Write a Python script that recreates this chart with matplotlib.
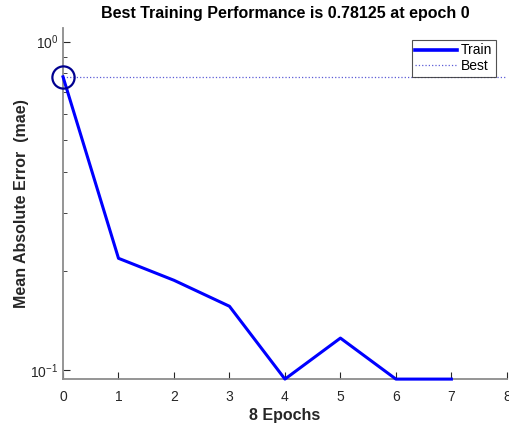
import matplotlib

matplotlib.use("Agg")
import matplotlib.pyplot as plt  # noqa: E402
import numpy as np  # noqa: E402
from matplotlib.ticker import LogLocator, NullFormatter  # noqa: E402

plt.rcParams["font.family"] = ["Liberation Sans", "DejaVu Sans"]

epochs = [0, 1, 2, 3, 4, 5, 6, 7]
train_mae = [0.78125, 0.21875, 0.1875, 0.15625, 0.09375, 0.125, 0.09375, 0.09375]
best_epoch = 0
best_value = 0.78125

fig = plt.figure(figsize=(5.09, 4.25), dpi=100)
ax = fig.add_axes([0.1238, 0.108, 0.872, 0.826])

ax.plot(epochs, train_mae, "-", color="#0000ff", linewidth=2.2, label="Train",
        clip_on=False, zorder=3)
ax.axhline(best_value, linestyle=":", color="#5c5cd6", linewidth=0.9, label="Best")
ax.plot([best_epoch], [best_value], "o", markersize=16, markerfacecolor="none",
        markeredgecolor="#000090", markeredgewidth=1.6, clip_on=False, zorder=4)

ax.set_yscale("log")
ax.set_xlim(0, 8)
ax.set_ylim(0.09375, 1.1)
ax.set_xticks(range(0, 9))
ax.yaxis.set_major_locator(LogLocator(base=10, numticks=5))
ax.yaxis.set_minor_locator(LogLocator(base=10, subs=np.arange(2, 10) * 1.0, numticks=20))
ax.yaxis.set_minor_formatter(NullFormatter())

for side in ["top", "right"]:
    ax.spines[side].set_visible(False)
for side in ["left", "bottom"]:
    ax.spines[side].set_color("#8c8c8c")
    ax.spines[side].set_linewidth(1.3)

ax.tick_params(axis="both", which="both", direction="in", colors="#262626",
               labelsize=10, labelcolor="#262626")
ax.tick_params(axis="both", which="major", length=5)
ax.tick_params(axis="y", which="minor", length=3)
ax.tick_params(axis="x", pad=8)

ax.set_title(f"Best Training Performance is {best_value} at epoch {best_epoch}",
             fontsize=11.5, fontweight="bold", pad=7)
ax.set_xlabel(f"{len(epochs)} Epochs", fontsize=11.5, fontweight="bold", color="#262626",
              labelpad=3)
ax.set_ylabel("Mean Absolute Error  (mae)", fontsize=11.5, fontweight="bold",
              color="#262626", labelpad=1)

leg = ax.legend(loc="upper right", bbox_to_anchor=(0.975, 0.966), fontsize=10,
                frameon=True, fancybox=False, borderpad=0.25, handlelength=3.0,
                handletextpad=0.3, labelspacing=0.12, borderaxespad=0)
leg.get_frame().set_edgecolor("#262626")
leg.get_frame().set_linewidth(0.8)
leg.get_lines()[0].set_linewidth(2.6)

fig.savefig("out.png", dpi=100)
plt.close(fig)
